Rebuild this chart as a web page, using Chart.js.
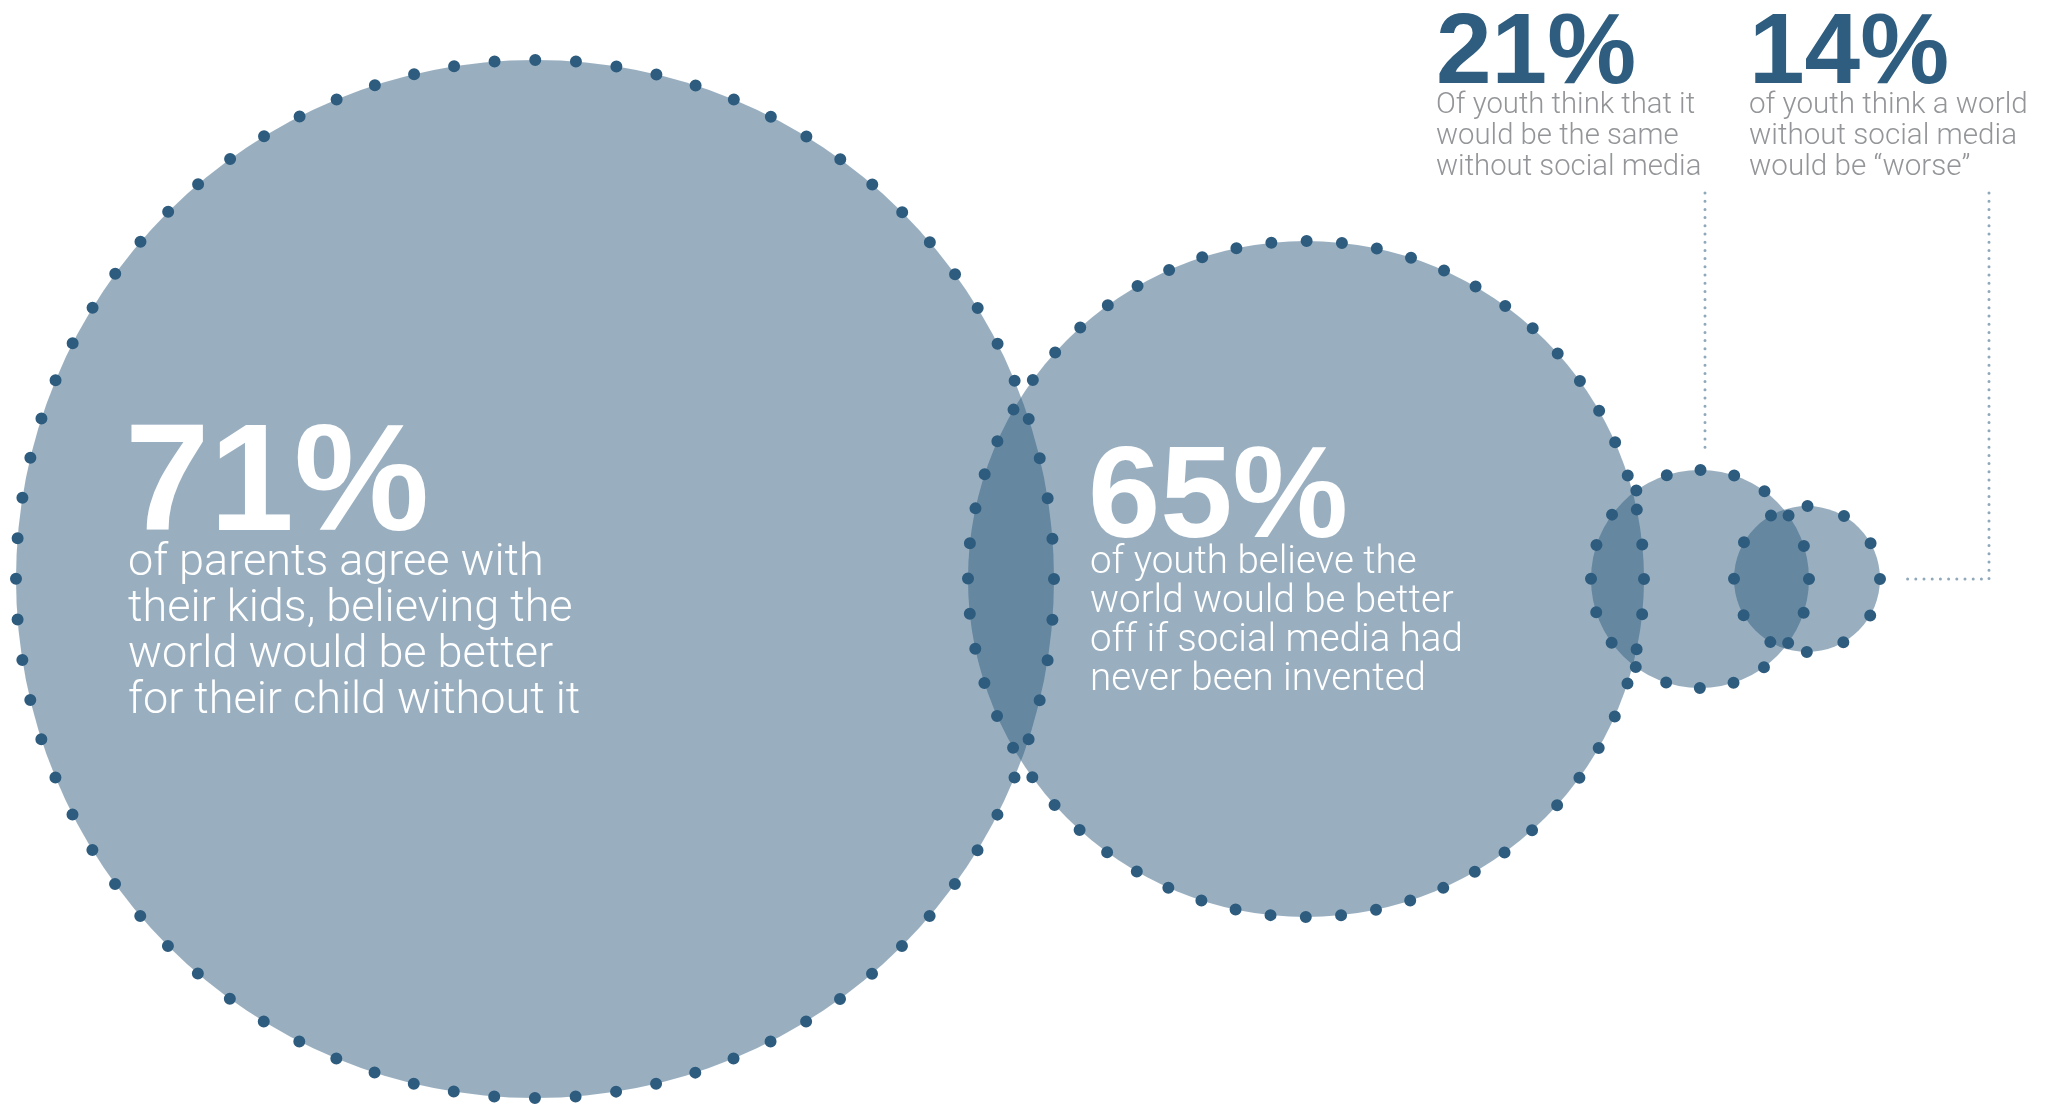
<!DOCTYPE html>
<html>
<head>
<meta charset="utf-8">
<title>A world without social media</title>
<script src="https://cdn.jsdelivr.net/npm/chart.js@4.4.1/dist/chart.umd.min.js"></script>
<style>
  html, body { margin: 0; padding: 0; background: #fff; }
  #wrap { position: relative; width: 2048px; height: 1109px; overflow: hidden; }
  #bubbleChart { position: absolute; left: 0; top: 0; }
  .pct, .txt { position: absolute; white-space: nowrap; margin: 0; }
  .pct { font-family: "Liberation Sans", Arial, sans-serif; font-weight: bold; }
  .txt { font-family: Roboto, "Liberation Sans", sans-serif; font-weight: 300; }
</style>
</head>
<body>
<div id="wrap">
  <canvas id="bubbleChart" width="2048" height="1109"></canvas>
</div>
<script>
// survey shares shown in each bubble
const statValues = [71, 65, 21, 14];
const statCaptions = [
    ['of parents agree with', 'their kids, believing the', 'world would be better', 'for their child without it'],
    ['of youth believe the', 'world would be better', 'off if social media had', 'never been invented'],
    ['Of youth think that it', 'would be the same', 'without social media'],
    ['of youth think a world', 'without social media', 'would be \u201cworse\u201d']
];
// bubble centres and radii in axis units (x: 0-2048, y: 0-1109)
const bubbleX = [535, 1306, 1700, 1807];
const bubbleY = [579, 579, 579, 579];
const bubbleR = [519, 338, 109, 73];

const xMin = 0, xMax = 2048, yMin = 0, yMax = 1109;

// radius in axis units -> pixels (chart area is the whole canvas)
function unitsToPx(chart, v) {
    return v * chart.width / (xMax - xMin);
}

// dotted rim round every bubble, drawn over all the fills
const dottedRim = {
    id: 'dottedRim',
    afterDatasetsDraw(chart, args, opts) {
        const c = chart.ctx;
        const meta = chart.getDatasetMeta(0);
        c.save();
        c.strokeStyle = opts.color;
        c.lineWidth = opts.dotSize;
        c.lineCap = 'round';
        meta.data.forEach((pt, i) => {
            const r = pt.options.radius;
            c.setLineDash([0, 2 * Math.PI * r / opts.dotCounts[i]]);
            c.beginPath();
            c.arc(pt.x, pt.y, r, 0, 2 * Math.PI);
            c.stroke();
        });
        c.restore();
    }
};

// thin dotted leader lines from the small bubbles up to their labels
const leaders = {
    id: 'leaders',
    afterDatasetsDraw(chart, args, opts) {
        const c = chart.ctx;
        const xs = chart.scales.x, ys = chart.scales.y;
        c.save();
        c.strokeStyle = opts.color;
        c.lineWidth = opts.width;
        c.lineCap = 'round';
        c.setLineDash([0, opts.gap]);
        opts.paths.forEach(path => {
            c.beginPath();
            path.forEach((p, k) => {
                const px = xs.getPixelForValue(p[0]), py = ys.getPixelForValue(p[1]);
                if (k === 0) c.moveTo(px, py); else c.lineTo(px, py);
            });
            c.stroke();
        });
        c.restore();
    }
};

const ctx = document.getElementById('bubbleChart').getContext('2d');
const chart = new Chart(ctx, {
    type: 'bubble',
    data: {
        datasets: [{
            label: 'Share',
            data: bubbleX.map((x, i) => ({ x: x, y: bubbleY[i], v: statValues[i] })),
            backgroundColor: 'rgba(46, 92, 126, 0.49)',
            borderWidth: 0,
            radius: c => unitsToPx(c.chart, bubbleR[c.dataIndex])
        }]
    },
    options: {
        responsive: false,
        animation: false,
        events: [],
        layout: { padding: 0, autoPadding: false },
        plugins: {
            legend: { display: false },
            tooltip: { enabled: false },
            dottedRim: { color: '#2E5C7E', dotSize: 12, dotCounts: [80, 60, 20, 12] },
            leaders: {
                color: '#8FA8BA', width: 3, gap: 8.2,
                paths: [
                    [[1705, 193], [1705, 454]],
                    [[1989, 193], [1989, 579], [1903, 579]]
                ]
            }
        },
        scales: {
            x: { type: 'linear', min: xMin, max: xMax, display: false },
            y: { type: 'linear', min: yMin, max: yMax, reverse: true, display: false }
        }
    },
    plugins: [dottedRim, leaders]
});

// text labels
const labelStyles = [
    { pctLeft: 125, pctBase: 530, pctSize: 152, txtLeft: 128, txtBase: 575, txtSize: 45, lh: 46, pctColor: '#fff', txtColor: '#fff' },
    { pctLeft: 1088, pctBase: 537, pctSize: 130, txtLeft: 1090, txtBase: 573, txtSize: 38.5, lh: 39, pctColor: '#fff', txtColor: '#fff' },
    { pctLeft: 1436, pctBase: 83, pctSize: 100, txtLeft: 1436, txtBase: 113, txtSize: 29.3, lh: 31, pctColor: '#2E5D7F', txtColor: '#939598' },
    { pctLeft: 1749, pctBase: 83, pctSize: 100, txtLeft: 1749, txtBase: 113, txtSize: 29.6, lh: 31, pctColor: '#2E5D7F', txtColor: '#939598' }
];

const wrap = document.getElementById('wrap');

function placeAtBaseline(el, baseline) {
    const mark = document.createElement('span');
    mark.style.cssText = 'display:inline-block;width:0;height:0;vertical-align:baseline';
    el.insertBefore(mark, el.firstChild);
    el.style.top = '0px';
    el.style.top = (baseline - mark.offsetTop) + 'px';
}

statValues.forEach((v, i) => {
    const st = labelStyles[i];
    const pct = document.createElement('div');
    pct.className = 'pct';
    pct.textContent = v + '%';
    pct.style.left = st.pctLeft + 'px';
    pct.style.fontSize = st.pctSize + 'px';
    pct.style.lineHeight = st.pctSize + 'px';
    pct.style.color = st.pctColor;
    wrap.appendChild(pct);
    placeAtBaseline(pct, st.pctBase);

    const txt = document.createElement('div');
    txt.className = 'txt';
    txt.style.left = st.txtLeft + 'px';
    txt.style.fontSize = st.txtSize + 'px';
    txt.style.lineHeight = st.lh + 'px';
    txt.style.color = st.txtColor;
    statCaptions[i].forEach((line, k) => {
        if (k > 0) txt.appendChild(document.createElement('br'));
        txt.appendChild(document.createTextNode(line));
    });
    wrap.appendChild(txt);
    placeAtBaseline(txt, st.txtBase);
});
</script>
</body>
</html>
